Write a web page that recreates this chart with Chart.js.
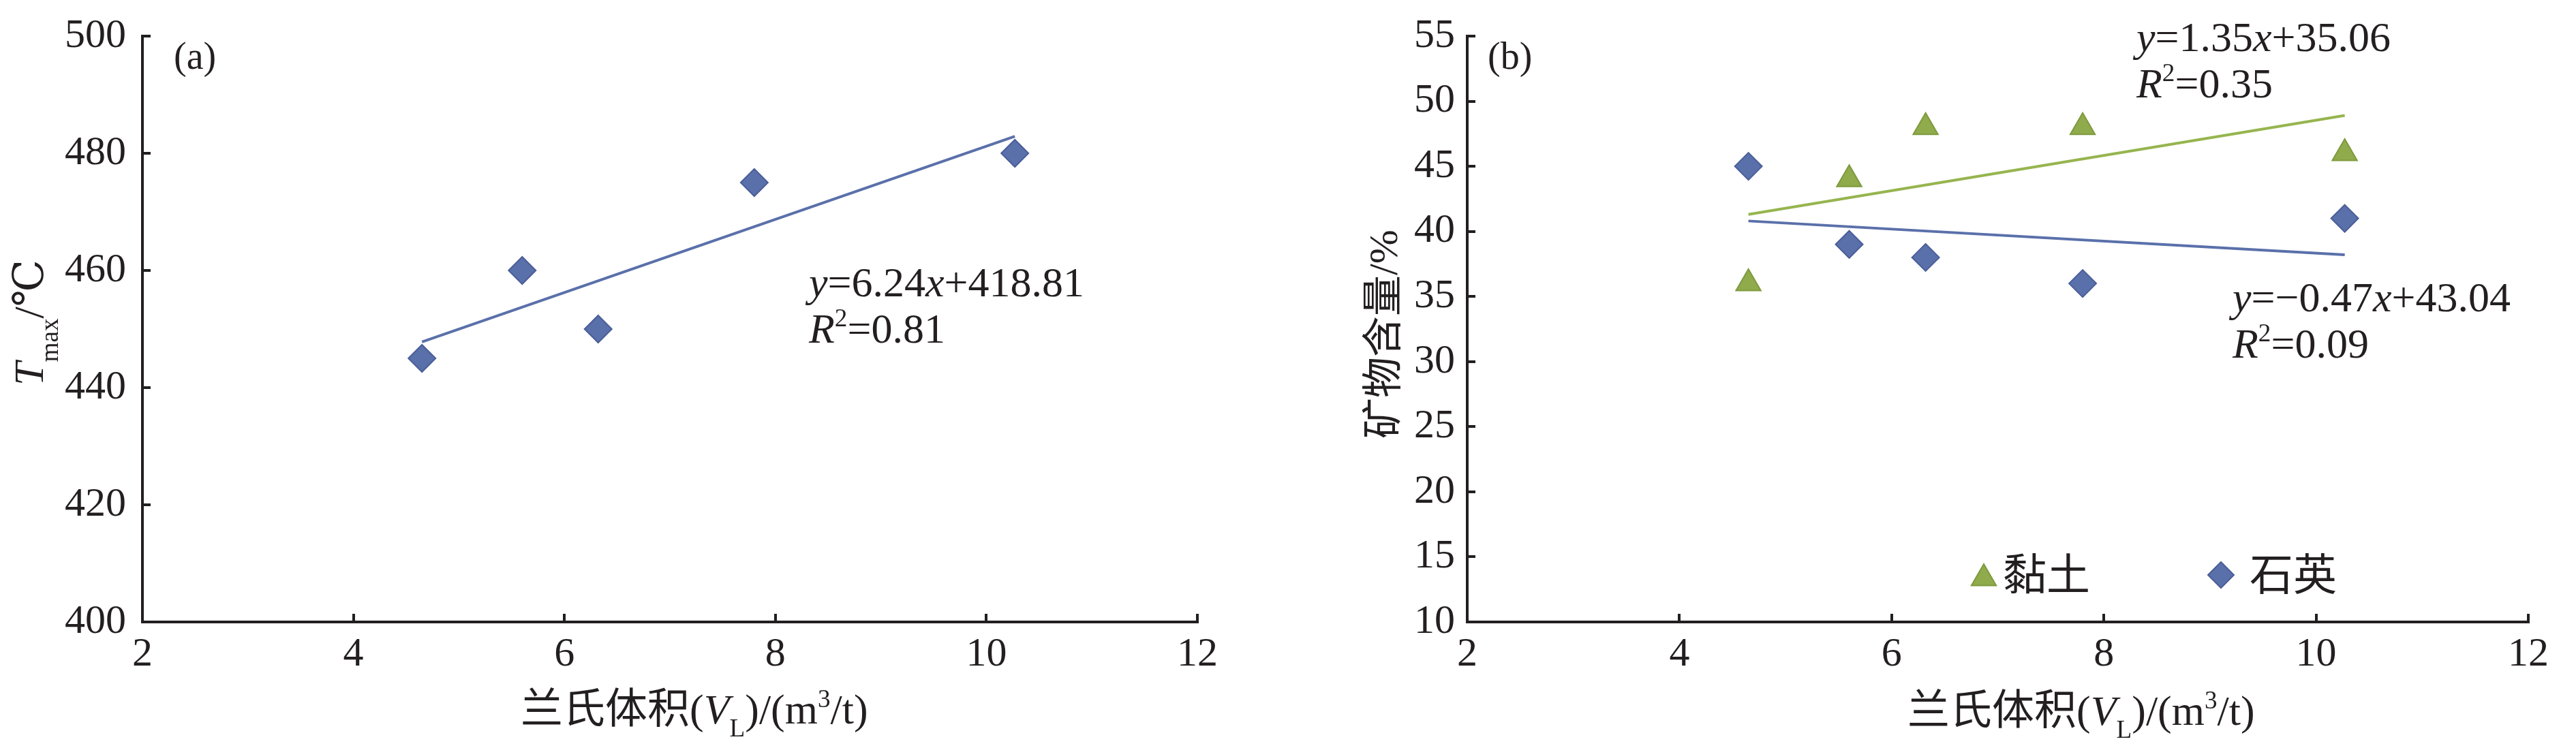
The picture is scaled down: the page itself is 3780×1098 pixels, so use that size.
<!DOCTYPE html>
<html lang="zh">
<head>
<meta charset="utf-8">
<title>兰氏体积与Tmax及矿物含量的关系</title>
<script src="https://cdn.jsdelivr.net/npm/chart.js@4.4.1/dist/chart.umd.min.js"></script>
<style>
html,body{margin:0;padding:0;background:#fff;}
#wrap{position:relative;width:3780px;height:1098px;overflow:hidden;background:#fff;}
canvas{position:absolute;top:0;}
#chartA{left:0;}
#chartB{left:1890px;}
</style>
</head>
<body>
<div id="wrap">
  <canvas id="chartA" width="1890" height="1098"></canvas>
  <canvas id="chartB" width="1890" height="1098"></canvas>
</div>
<script>
// 兰氏体积 VL, m3/t (same samples in both panels)
const langmuirVolume = [4.65, 5.6, 6.32, 7.8, 10.27];

// (a) Tmax, ℃
const tmaxValues = [445, 460, 450, 475, 480];

// (b) 矿物含量, %
const clayValues = [36, 44, 48, 48, 46];
const quartzValues = [45, 39, 38, 36, 41];

// trend line end points
const trendX = [4.65, 10.27];
const tmaxTrend = [447.8, 482.9];
const clayTrend = [41.3, 48.9];
const quartzTrend = [40.8, 38.2];

const xTicks = [2, 4, 6, 8, 10, 12];
const tmaxTicks = [400, 420, 440, 460, 480, 500];
const mineralTicks = [10, 15, 20, 25, 30, 35, 40, 45, 50, 55];

const INK = "#231f20";
const BLUE = "#5a70aa";
const BLUE_EDGE = "#4a5e98";
const GREEN = "#8fab4c";
const GREEN_EDGE = "#7e9a3e";
const SERIF = '"Liberation Serif", "Times New Roman", Tinos, "DejaVu Serif", "Noto Sans CJK SC", serif';

function toPoints(xs, ys){
  return xs.map((x,i) => ({ x, y: ys[i] }));
}

function useTicks(values){
  return function(scale){
    scale.ticks = values.map(v => ({ value: v }));
  };
}

// draw a run of text pieces (italic / sub / sup) starting at x
function drawRuns(ctx, x, y, runs, size){
  runs.forEach(run => {
    let fs = size;
    let dy = 0;
    if(run.sub){ fs = size * 0.6; dy = size * (run.drop || 0.3); }
    if(run.sup){ fs = size * 0.6; dy = -size * 0.38; }
    ctx.font = (run.italic ? "italic " : "") + fs + "px " + SERIF;
    ctx.fillText(run.t, x, y + dy);
    x += ctx.measureText(run.t).width;
  });
}

const xTitleRuns = [
  { t:"兰氏体积(" },
  { t:"V", italic:true },
  { t:"L", sub:true },
  { t:")/(m" },
  { t:"3", sup:true },
  { t:"/t)" }
];

function drawInnerTicks(chart){
  const { ctx, chartArea, scales } = chart;
  ctx.save();
  ctx.strokeStyle = INK;
  ctx.lineWidth = 4;
  ctx.lineCap = "butt";
  scales.x.ticks.forEach(t => {
    if(t.value === scales.x.min) return;
    const px = Math.round(scales.x.getPixelForValue(t.value));
    ctx.beginPath();
    ctx.moveTo(px, chartArea.bottom + 2);
    ctx.lineTo(px, chartArea.bottom - 12);
    ctx.stroke();
  });
  scales.y.ticks.forEach(t => {
    if(t.value === scales.y.min) return;
    const py = Math.round(scales.y.getPixelForValue(t.value));
    ctx.beginPath();
    ctx.moveTo(chartArea.left - 2, py);
    ctx.lineTo(chartArea.left + 12, py);
    ctx.stroke();
  });
  ctx.restore();
}

function axisOptions(ticks, areaWidth, labelPad, isX){
  return {
    type:"linear",
    min:ticks[0],
    max:ticks[ticks.length - 1],
    afterBuildTicks:useTicks(ticks),
    afterFit:function(scale){
      if(isX) scale.height = areaWidth;
      else scale.width = areaWidth;
    },
    grid:{ display:false },
    border:{ display:true, color:INK, width:4 },
    ticks:{
      color:INK,
      padding:labelPad,
      autoSkip:false,
      maxRotation:0,
      font:{ family:SERIF, size:60 }
    }
  };
}

const baseOptions = {
  responsive:false,
  animation:false,
  events:[],
  plugins:{ legend:{ display:false }, tooltip:{ enabled:false } }
};

// ---------- (a) ----------
const notesA = {
  id:"notesA",
  afterDraw(chart){
    drawInnerTicks(chart);
    const ctx = chart.ctx;
    ctx.save();
    ctx.fillStyle = INK;
    ctx.textBaseline = "alphabetic";
    ctx.textAlign = "left";

    ctx.font = "56px " + SERIF;
    ctx.fillText("(a)", 255, 101);

    drawRuns(ctx, 1187, 435, [
      { t:"y", italic:true }, { t:"=6.24" }, { t:"x", italic:true }, { t:"+418.81" }
    ], 62);
    drawRuns(ctx, 1187, 503, [
      { t:"R", italic:true }, { t:"2", sup:true }, { t:"=0.81" }
    ], 62);

    drawRuns(ctx, 764, 1062, xTitleRuns, 62);

    ctx.translate(63, 566);
    ctx.rotate(-Math.PI / 2);
    drawRuns(ctx, 0, 0, [
      { t:"T", italic:true }, { t:"max", sub:true, drop:0.35 }, { t:"/℃" }
    ], 62);
    ctx.restore();
  }
};

new Chart(document.getElementById("chartA"), {
  type:"scatter",
  data:{
    datasets:[
      {
        label:"Tmax",
        data:toPoints(langmuirVolume, tmaxValues),
        pointStyle:"rectRot",
        pointRadius:20,
        backgroundColor:BLUE,
        borderColor:BLUE_EDGE,
        borderWidth:2,
        order:1
      },
      {
        label:"趋势线",
        type:"line",
        data:toPoints(trendX, tmaxTrend),
        borderColor:BLUE,
        borderWidth:4,
        pointRadius:0,
        fill:false,
        order:2
      }
    ]
  },
  options:{
    ...baseOptions,
    layout:{ padding:{ left:0, top:53, right:133, bottom:0 } },
    scales:{
      x:axisOptions(xTicks, 185, 4, true),
      y:axisOptions(tmaxTicks, 209, 16, false)
    }
  },
  plugins:[notesA]
});

// ---------- (b) ----------
const notesB = {
  id:"notesB",
  afterDraw(chart){
    drawInnerTicks(chart);
    const ctx = chart.ctx;
    ctx.save();
    ctx.fillStyle = INK;
    ctx.textBaseline = "alphabetic";
    ctx.textAlign = "left";

    ctx.font = "56px " + SERIF;
    ctx.fillText("(b)", 293, 101);

    drawRuns(ctx, 1245, 75, [
      { t:"y", italic:true }, { t:"=1.35" }, { t:"x", italic:true }, { t:"+35.06" }
    ], 62);
    drawRuns(ctx, 1245, 143, [
      { t:"R", italic:true }, { t:"2", sup:true }, { t:"=0.35" }
    ], 62);

    drawRuns(ctx, 1386, 457, [
      { t:"y", italic:true }, { t:"=−0.47" }, { t:"x", italic:true }, { t:"+43.04" }
    ], 62);
    drawRuns(ctx, 1386, 525, [
      { t:"R", italic:true }, { t:"2", sup:true }, { t:"=0.09" }
    ], 62);

    drawRuns(ctx, 909, 1064, xTitleRuns, 62);

    // legend
    const helpers = Chart.helpers;
    const clay = chart.data.datasets[0];
    const quartz = chart.data.datasets[1];
    ctx.lineWidth = 2;
    ctx.fillStyle = clay.backgroundColor;
    ctx.strokeStyle = clay.borderColor;
    helpers.drawPoint(ctx, { pointStyle:clay.pointStyle, radius:21, borderWidth:2 }, 1021, 849);
    ctx.fillStyle = quartz.backgroundColor;
    ctx.strokeStyle = quartz.borderColor;
    helpers.drawPoint(ctx, { pointStyle:quartz.pointStyle, radius:19, borderWidth:2 }, 1369, 844);
    ctx.fillStyle = INK;
    ctx.font = "64px " + SERIF;
    ctx.fillText(clay.label, 1049, 866);
    ctx.fillText(quartz.label, 1411, 866);

    ctx.translate(160, 644);
    ctx.rotate(-Math.PI / 2);
    drawRuns(ctx, 0, 0, [ { t:"矿物含量/%" } ], 60);
    ctx.restore();
  }
};

new Chart(document.getElementById("chartB"), {
  type:"scatter",
  data:{
    datasets:[
      {
        label:"黏土",
        data:toPoints(langmuirVolume, clayValues),
        pointStyle:"triangle",
        pointRadius:21,
        backgroundColor:GREEN,
        borderColor:GREEN_EDGE,
        borderWidth:2,
        order:1
      },
      {
        label:"石英",
        data:toPoints(langmuirVolume, quartzValues),
        pointStyle:"rectRot",
        pointRadius:20,
        backgroundColor:BLUE,
        borderColor:BLUE_EDGE,
        borderWidth:2,
        order:1
      },
      {
        label:"黏土趋势线",
        type:"line",
        data:toPoints(trendX, clayTrend),
        borderColor:"#96b54f",
        borderWidth:4,
        pointRadius:0,
        fill:false,
        order:2
      },
      {
        label:"石英趋势线",
        type:"line",
        data:toPoints(trendX, quartzTrend),
        borderColor:BLUE,
        borderWidth:4,
        pointRadius:0,
        fill:false,
        order:2
      }
    ]
  },
  options:{
    ...baseOptions,
    layout:{ padding:{ left:0, top:53, right:70, bottom:0 } },
    scales:{
      x:axisOptions(xTicks, 185, 4, true),
      y:axisOptions(mineralTicks, 263, 10, false)
    }
  },
  plugins:[notesB]
});
</script>
</body>
</html>
